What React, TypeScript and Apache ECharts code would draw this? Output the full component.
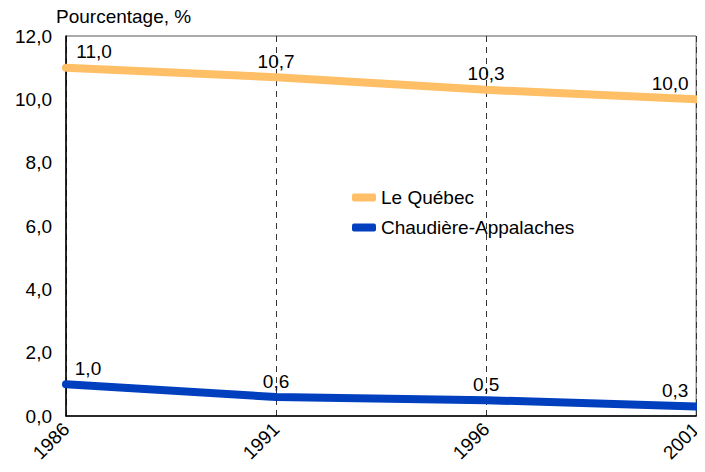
import React, { useEffect, useRef } from "react";
import * as echarts from "echarts";

const years = ["1986", "1991", "1996", "2001"];
const quebec = [11.0, 10.7, 10.3, 10.0];
const chaudiere = [1.0, 0.6, 0.5, 0.3];
const seriesNames = ["Le Québec", "Chaudière-Appalaches"];
const yAxisTitle = "Pourcentage, %";

const fmt = (v: number) => v.toFixed(1).replace(".", ",");

const FONT = "'Liberation Sans', Arial, Helvetica, sans-serif";
const FS = 19;

function withLabels(values: number[], offsets: number[][]) {
  return values.map((v, i) => ({
    value: v,
    label: { offset: offsets[i] },
  }));
}

export default function App() {
  const ref = useRef<HTMLDivElement>(null);
  useEffect(() => {
    if (!ref.current) return;
    const chart = echarts.init(ref.current, undefined, { renderer: "svg" });
    const labelCfg = {
      show: true,
      position: "top",
      distance: 6,
      fontSize: FS,
      color: "#000",
      fontFamily: FONT,
      formatter: (p: any) => fmt(p.value),
    };
    chart.setOption({
      animation: false,
      backgroundColor: "#ffffff",
      textStyle: { fontFamily: FONT },
      grid: {
        left: 66,
        right: 6,
        top: 36,
        bottom: 56,
        show: true,
        borderColor: "#555555",
        borderWidth: 1,
        backgroundColor: "transparent",
      },
      legend: {
        orient: "vertical",
        left: 347,
        top: 183,
        itemWidth: 24,
        itemHeight: 8,
        itemGap: 11,
        icon: "roundRect",
        textStyle: { fontSize: FS, color: "#000", fontFamily: FONT },
        data: seriesNames,
      },
      xAxis: {
        type: "category",
        data: years,
        boundaryGap: false,
        axisLine: { show: true, lineStyle: { color: "#000", width: 1.5 } },
        axisTick: { show: false },
        axisLabel: {
          rotate: 45,
          fontSize: FS,
          color: "#000",
          margin: 10,
          fontFamily: FONT,
        },
        splitLine: {
          show: true,
          lineStyle: { color: "#333", type: [6, 5], width: 1 },
        },
      },
      yAxis: {
        type: "value",
        min: 0,
        max: 12,
        interval: 2,
        name: yAxisTitle,
        nameLocation: "end",
        nameGap: 10,
        nameTextStyle: {
          fontSize: FS,
          color: "#000",
          align: "left",
          padding: [0, 0, 0, -10],
          fontFamily: FONT,
        },
        axisLine: { show: true, lineStyle: { color: "#000", width: 1.5 } },
        axisTick: { show: false },
        splitLine: { show: false },
        axisLabel: {
          fontSize: FS,
          color: "#000",
          margin: 14,
          formatter: (v: number) => fmt(v),
          fontFamily: FONT,
        },
      },
      series: [
        {
          name: seriesNames[0],
          type: "line",
          data: withLabels(quebec, [[28, 0], [0, 0], [0, 0], [-26, 0]]),
          symbol: "circle",
          symbolSize: 1,
          showSymbol: true,
          color: "#FFBF66",
          itemStyle: { color: "#FFBF66" },
          lineStyle: { width: 8, color: "#FFBF66", cap: "round" },
          label: labelCfg,
          z: 3,
        },
        {
          name: seriesNames[1],
          type: "line",
          data: withLabels(chaudiere, [[22, 0], [0, 0], [0, 0], [-21, 0]]),
          symbol: "circle",
          symbolSize: 1,
          showSymbol: true,
          color: "#0040BF",
          itemStyle: { color: "#0040BF" },
          lineStyle: { width: 8, color: "#0040BF", cap: "round" },
          label: labelCfg,
          z: 3,
        },
      ],
    });
    return () => chart.dispose();
  }, []);
  return <div ref={ref} style={{ width: 705, height: 472, margin: -8 }} />;
}
